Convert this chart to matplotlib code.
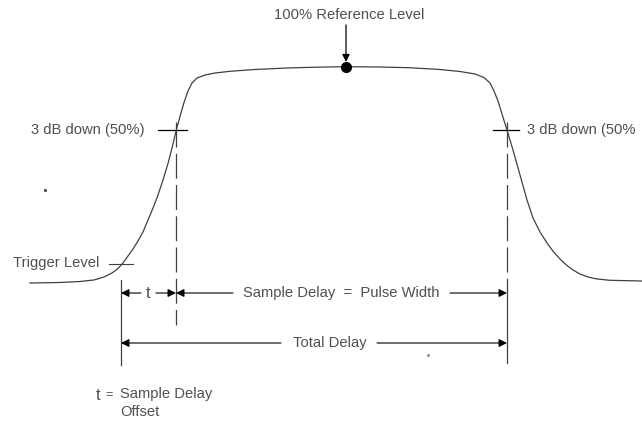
import matplotlib
matplotlib.use("Agg")
import matplotlib.pyplot as plt

# Pulse shape (pixel-like units, y down)
pulse_x = [30, 60, 80, 94, 104, 112, 118, 123, 128, 133, 138, 143, 148, 153, 158, 163, 168, 173, 176,
           180, 184, 188, 192, 197, 205, 215, 230, 255, 287, 315, 346, 380, 409, 440, 460, 475, 484,
           490, 494, 498, 502, 507, 513, 520, 527, 533, 540, 547, 554, 561, 567, 573, 580, 588, 597, 610, 642]
pulse_y = [283, 282.5, 281.5, 280, 277, 273, 268.5, 263, 256, 249, 241, 232, 220, 208, 195, 180, 163.5, 144, 131,
           116.5, 102.5, 91, 83, 78, 75, 73, 71.3, 69.5, 68, 67.2, 66.7, 67, 67.7, 69.5, 71.5, 74, 77.5,
           83, 91, 101, 114, 130, 150, 175, 200, 218, 232, 243, 252.5, 260, 265.5, 270, 274, 277, 279, 280.3, 281]

ref_label = "100% Reference Level"
half_label = "3 dB down (50%)"
half_label_right = "3 dB down (50%"
trigger_label = "Trigger Level"
sample_label = "Sample Delay  =  Pulse Width"
total_label = "Total Delay"
t_label = "t"
legend_lines = ["Sample Delay", "Offset"]

ref_x, ref_y = 346, 67
left_half_x, right_half_x, half_y = 176, 507, 130
trig_x = 121

TXT = "#505050"
LN = "#404040"
FONT = "Liberation Sans"
FS = 10.6

fig = plt.figure(figsize=(6.42, 4.24), dpi=100)
ax = fig.add_axes([0, 0, 1, 1])
ax.set_xlim(0, 642)
ax.set_ylim(424, 0)
ax.axis("off")

ax.plot(pulse_x, pulse_y, color=LN, lw=0.9)
ax.plot([ref_x], [ref_y], "o", color="black", ms=7)

# reference label and arrow
ax.text(349.5, 15, ref_label, ha="center", va="center", fontsize=FS, color=TXT, family=FONT)
ax.annotate("", xy=(ref_x, ref_y - 5), xytext=(ref_x, 25),
            arrowprops=dict(arrowstyle="-|>", lw=0.9, color="black", shrinkA=0, shrinkB=0,
                            mutation_scale=11))

# 3 dB markers
ax.text(31, half_y, half_label, ha="left", va="center", fontsize=FS, color=TXT, family=FONT)
ax.plot([158, 187], [half_y, half_y], color="black", lw=0.9)
ax.text(527, half_y, half_label_right, ha="left", va="center", fontsize=FS, color=TXT, family=FONT)
ax.plot([493, 519], [half_y, half_y], color="black", lw=0.9)

# trigger
ax.text(13, 263, trigger_label, ha="left", va="center", fontsize=FS, color=TXT, family=FONT)
ax.plot([109, 133], [264, 264], color=LN, lw=0.8)

# verticals
ax.plot([left_half_x, left_half_x], [half_y - 8, 325], color=LN, lw=0.9, dashes=(20, 5))
ax.plot([right_half_x, right_half_x], [half_y - 8, 290], color=LN, lw=0.9, dashes=(20, 5))
ax.plot([right_half_x, right_half_x], [290, 363], color=LN, lw=0.9)
ax.plot([trig_x, trig_x], [280, 365], color=LN, lw=0.9)

ap = dict(arrowstyle="-|>", lw=0.8, color="black", shrinkA=0, shrinkB=0, mutation_scale=12)

# row 1
y1 = 293
ax.text(148, y1, t_label, ha="center", va="center", fontsize=FS + 1.5, color=TXT, family=FONT)
ax.annotate("", xy=(trig_x, y1), xytext=(141, y1), arrowprops=ap)
ax.annotate("", xy=(left_half_x, y1), xytext=(156, y1), arrowprops=ap)
ax.annotate("", xy=(left_half_x, y1), xytext=(233, y1), arrowprops=ap)
ax.text(341, y1, sample_label, ha="center", va="center", fontsize=FS, color=TXT, family=FONT)
ax.annotate("", xy=(right_half_x, y1), xytext=(450, y1), arrowprops=ap)

# row 2
y2 = 343
ax.text(329.5, y2, total_label, ha="center", va="center", fontsize=FS, color=TXT, family=FONT)
ax.annotate("", xy=(trig_x, y2), xytext=(281, y2), arrowprops=ap)
ax.annotate("", xy=(right_half_x, y2), xytext=(377, y2), arrowprops=ap)

# legend note
ax.text(98, 395, t_label, ha="center", va="center", fontsize=FS + 1.5, color=TXT, family=FONT)
ax.text(109, 395, "=", ha="center", va="center", fontsize=FS - 1.5, color=TXT, family=FONT)
ax.text(120, 394, legend_lines[0], ha="left", va="center", fontsize=FS, color=TXT, family=FONT)
ax.text(120, 412, legend_lines[1], ha="left", va="center", fontsize=FS, color=TXT, family=FONT)

# stray marks
ax.plot([45], [190], "s", color="#555555", ms=1.2)
ax.plot([428], [355], "s", color="#888888", ms=1.0)

fig.savefig("out.png", dpi=100)
